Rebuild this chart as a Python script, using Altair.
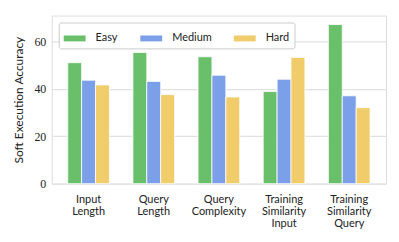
import altair as alt
import pandas as pd

categories = ["Input Length", "Query Length", "Query Complexity",
              "Training Similarity Input", "Training Similarity Query"]
levels = ["Easy", "Medium", "Hard"]
easy = [51.1, 55.4, 53.6, 38.9, 67.2]
medium = [43.7, 43.2, 45.8, 44.1, 37.1]
hard = [41.7, 37.6, 36.6, 53.3, 32.1]
colors = ["#6abf6b", "#7b9fe8", "#f0cc6b"]

rows = []
for i, c in enumerate(categories):
    for lvl, vals in zip(levels, [easy, medium, hard]):
        rows.append({"Category": c, "Difficulty": lvl, "Accuracy": vals[i]})
df = pd.DataFrame(rows)

sans = "Lato"
serif = "Liberation Serif"

chart = alt.Chart(df).mark_bar(stroke="white", strokeWidth=0.8).encode(
    x=alt.X("Category:N", sort=categories, title=None,
            scale=alt.Scale(paddingInner=0.36, paddingOuter=0.245),
            axis=alt.Axis(labelAngle=0, labelExpr="split(datum.label, ' ')",
                          labelFont=sans, labelFontSize=11, labelLineHeight=12,
                          labelColor="#222", ticks=False, domain=False,
                          labelPadding=10, grid=False)),
    xOffset=alt.XOffset("Difficulty:N", sort=levels,
                        scale=alt.Scale(paddingInner=0, paddingOuter=0)),
    y=alt.Y("Accuracy:Q", title="Soft Execution Accuracy",
            scale=alt.Scale(domain=[0, 71], nice=False),
            axis=alt.Axis(values=[0, 20, 40, 60], labelFont=serif, labelFontSize=12,
                          labelColor="#222", titleFont=sans, titleFontSize=12,
                          titleFontWeight="normal", titleColor="#222",
                          ticks=False, domain=False, gridColor="#e2e2e2",
                          gridWidth=1.2, labelPadding=6, titlePadding=8)),
    color=alt.Color("Difficulty:N", sort=levels,
                    scale=alt.Scale(domain=levels, range=colors),
                    legend=alt.Legend(title=None, orient="none", legendX=7, legendY=7,
                                      direction="horizontal",
                                      symbolType="M-1,-0.27L1,-0.27L1,0.27L-1,0.27Z",
                                      symbolSize=484, symbolStrokeWidth=0,
                                      labelFont=sans, labelFontSize=11, labelColor="#222",
                                      columnPadding=22, labelOffset=10,
                                      fillColor="white", strokeColor="#cccccc",
                                      padding=5, cornerRadius=2)),
).properties(width=336, height=169,
             padding={"left": 5, "top": 7, "right": 5, "bottom": 5}).configure_view(
    stroke="#cccccc", strokeWidth=1.2
).configure(background="white")

chart.save("out.html", embed_options={"renderer": "svg", "actions": False})
